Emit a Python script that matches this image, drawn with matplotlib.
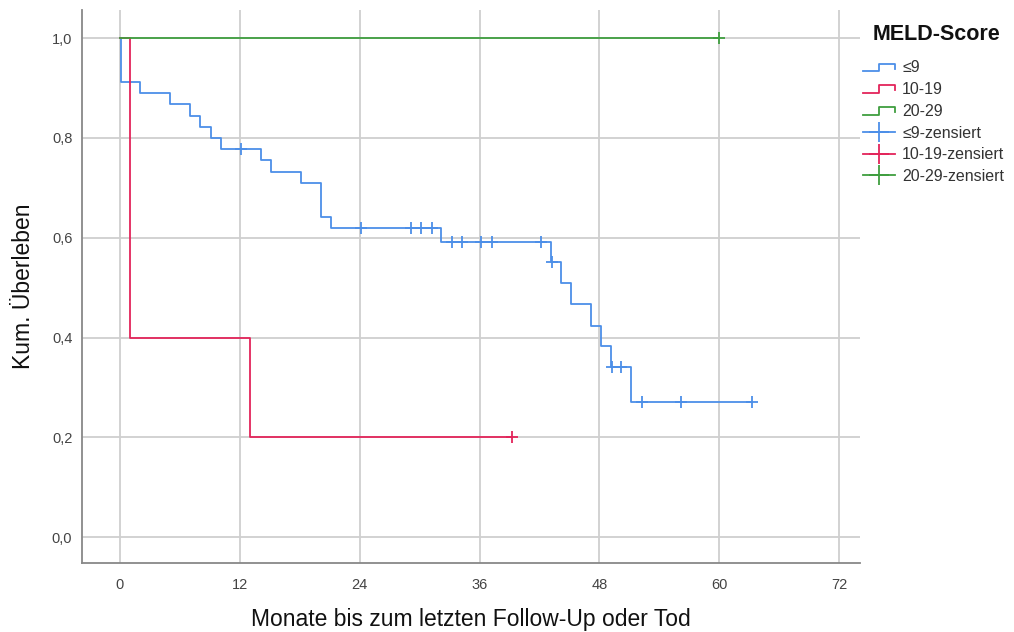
import numpy as np
import matplotlib
matplotlib.use("Agg")
import matplotlib.pyplot as plt
from matplotlib.lines import Line2D
from matplotlib.legend_handler import HandlerBase

plt.rcParams['font.family'] = ['Liberation Sans', 'DejaVu Sans']

# Kaplan-Meier steps per MELD group: event times (months) and survival after each step
groups = ["≤9", "10-19", "20-29"]
colors = ["#4C8FE8", "#E3245A", "#3F9E3F"]

t_low = [0, 0.1, 2.0, 5.0, 7.0, 8.0, 9.1, 10.1, 14.1, 15.1, 18.1, 20.1, 21.1,
         32.1, 43.2, 44.2, 45.2, 47.2, 48.2, 49.2, 51.2]
s_low = [1.0, 0.912, 0.890, 0.868, 0.844, 0.822, 0.800, 0.778, 0.756, 0.732, 0.709,
         0.641, 0.619, 0.591, 0.551, 0.510, 0.467, 0.424, 0.383, 0.340, 0.271]
c_low = [12.1, 24.1, 29.1, 30.1, 31.2, 33.2, 34.2, 36.1, 37.2, 42.2, 43.3,
         49.3, 50.2, 52.3, 56.2, 63.3]

t_mid = [0, 1.0, 13.0]
s_mid = [1.0, 0.4, 0.2]
c_mid = [39.2]

t_high = [0]
s_high = [1.0]
c_high = [60.0]

x_ticks = [0, 12, 24, 36, 48, 60, 72]
y_ticks = [0.0, 0.2, 0.4, 0.6, 0.8, 1.0]


class StepHandler(HandlerBase):
    # small step-shaped line for the curve entries
    def create_artists(self, legend, orig_handle, xdescent, ydescent,
                       width, height, fontsize, trans):
        x0, x1 = -xdescent, -xdescent + width
        xm = x0 + width * 0.5
        lo, hi = -ydescent + height * 0.1, -ydescent + height * 0.8
        line = Line2D([x0, xm, xm, x1, x1], [lo, lo, hi, hi, lo + height * 0.25],
                      color=orig_handle.get_color(), lw=1.3)
        line.set_transform(trans)
        return [line]


fig = plt.figure(figsize=(10.14, 6.32), dpi=100)
ax = fig.add_axes([0.0809, 0.109, 0.7673, 0.875])

curves = [(t_low, s_low, c_low), (t_mid, s_mid, c_mid), (t_high, s_high, c_high)]
step_handles = []
cens_handles = []
for (t, s, c), col, name in zip(curves, colors, groups):
    t = np.array(t)
    s = np.array(s)
    end = max(c)
    xs = np.append(t, end)
    ys = np.append(s, s[-1])
    ln, = ax.step(xs, ys, where='post', color=col, lw=1.3, zorder=3)
    # censored points sit on the curve value at that time
    idx = np.searchsorted(t, c, side='right') - 1
    ax.plot(c, s[idx], ls='none', marker='+', ms=9, mew=1.3, color=col, zorder=4)
    step_handles.append(ln)
    cens_handles.append(Line2D([], [], color=col, lw=1.3, marker='+', ms=15, mew=1.3))

ax.set_xlim(-3.8, 74.1)
ax.set_ylim(-0.052, 1.056)
ax.set_xticks(x_ticks)
ax.set_yticks(y_ticks)
ax.set_xticklabels([str(v) for v in x_ticks])
ax.set_yticklabels([f"{v:.1f}".replace(".", ",") for v in y_ticks])
ax.grid(True, color="#cfcfcf", lw=1.3, zorder=0)
ax.tick_params(length=0, colors="#444444", labelsize=10.5)
ax.tick_params(axis='x', pad=11)
ax.tick_params(axis='y', pad=7)
for side in ["top", "right"]:
    ax.spines[side].set_visible(False)
for side in ["left", "bottom"]:
    ax.spines[side].set_color("#888888")
    ax.spines[side].set_linewidth(1.3)

ax.set_xlabel("Monate bis zum letzten Follow-Up oder Tod", fontsize=16.5,
              color="#111111", labelpad=11)
ax.set_ylabel("Kum. Überleben", fontsize=16.5, color="#111111", labelpad=12)

labels = groups + [g + "-zensiert" for g in groups]
leg = fig.legend(step_handles + cens_handles, labels,
                 handler_map={h: StepHandler() for h in step_handles},
                 loc="upper left", bbox_to_anchor=(0.840, 0.922), frameon=False,
                 fontsize=11.5, handlelength=2.0, handletextpad=0.45,
                 labelspacing=0.42, borderpad=0.2)
for txt in leg.get_texts():
    txt.set_color("#333333")
fig.text(0.861, 0.946, "MELD-Score", fontsize=15.5, fontweight="bold",
         ha="left", va="center", color="#111111")

fig.savefig("out.png", dpi=100)
